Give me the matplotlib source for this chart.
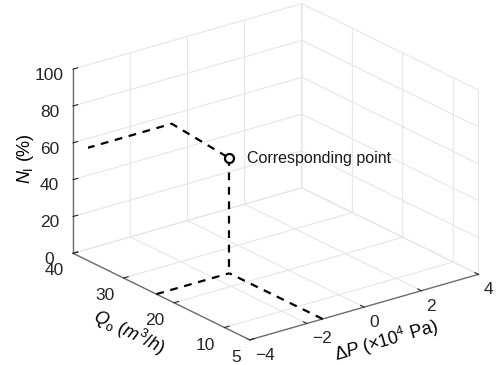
import matplotlib
matplotlib.use("Agg")
import matplotlib.pyplot as plt
import numpy as np

plt.rcParams['font.family'] = ['Liberation Sans', 'DejaVu Sans']
plt.rcParams['mathtext.fontset'] = 'custom'
plt.rcParams['mathtext.rm'] = 'Liberation Sans'
plt.rcParams['mathtext.it'] = 'Liberation Sans:italic'
plt.rcParams['mathtext.bf'] = 'Liberation Sans:bold'

# ---- data ----
dp_ticks = [-4, -2, 0, 2, 4]
q_ticks = [5, 10, 20, 30, 40]
n_ticks = [0, 20, 40, 60, 80, 100]
dp_lim = (-4, 4)
q_lim = (5, 40)
n_lim = (0, 100)

point_dp = -1.45
point_q = 23.5
point_n = 62.5
wall_dp = -0.55     # where the upper guide meets the back wall
wall_n = 55.0       # N value at the back wall

# guide lines (dashed)
vert_dp = [point_dp, point_dp]
vert_q = [point_q, point_q]
vert_n = [point_n, n_lim[0]]
floor1_dp = [dp_lim[0], point_dp]
floor1_q = [point_q, point_q]
floor1_n = [0, 0]
floor2_dp = [point_dp, point_dp]
floor2_q = [q_lim[0], point_q]
floor2_n = [0, 0]
up_dp = [dp_lim[0], wall_dp, point_dp]
up_q = [q_lim[1], q_lim[1], point_q]
up_n = [wall_n, wall_n, point_n]

fig = plt.figure(figsize=(4.97, 3.65), dpi=100)
ax = fig.add_axes([0.045, 0.016, 1.0, 1.0], projection='3d', proj_type='ortho')
ax.view_init(elev=22, azim=-127.4)
ax.set_box_aspect((1.0, 1.01, 0.69), zoom=1.21)

ax.set_xlim(*dp_lim)
ax.set_ylim(*q_lim)
ax.set_zlim(*n_lim)
ax.set_xticks(dp_ticks)
ax.set_yticks(q_ticks)
ax.set_zticks(n_ticks)
ax.set_xticklabels(['\u22124', '\u22122', '0', '2', '4'])

grid_c = '#e3e3e3'
axis_c = '#6e6e6e'
for a in (ax.xaxis, ax.yaxis, ax.zaxis):
    a.set_pane_color((1, 1, 1, 0))
    a.pane.set_edgecolor(grid_c)
    a._axinfo['grid']['color'] = grid_c
    a._axinfo['grid']['linewidth'] = 0.7
    a.line.set_color(axis_c)
    a.line.set_linewidth(1.0)
    a._axinfo['tick']['color'] = axis_c
    a._axinfo['tick']['inward_factor'] = 0.0
    a._axinfo['tick']['outward_factor'] = 0.25

ax.tick_params(axis='both', labelsize=12.5, colors='#262626')
ax.tick_params(axis='x', pad=-4)
ax.tick_params(axis='y', pad=-2.5)
ax.tick_params(axis='z', pad=0)
for t in ax.get_xticklabels():
    t.set_horizontalalignment('left')
for t in ax.get_yticklabels():
    t.set_horizontalalignment('right')

ls = dict(color='black', linestyle=(0, (3.5, 3)), linewidth=1.6)
ax.plot(vert_dp, vert_q, vert_n, **ls)
ax.plot(floor1_dp, floor1_q, floor1_n, **ls)
ax.plot(floor2_dp, floor2_q, floor2_n, **ls)
ax.plot(up_dp, up_q, up_n, **ls)
ax.plot([point_dp], [point_q], [point_n], marker='o', markersize=6.5,
        markerfacecolor='white', markeredgecolor='black', markeredgewidth=1.6,
        linestyle='none')
ax.text(point_dp, point_q, point_n, '    Corresponding point', fontsize=11.5,
        va='center', ha='left', color='#1a1a1a')

ax.set_xlabel(r'$\Delta$$P$ ($\times$10$^4$ Pa)', fontsize=13, labelpad=-4)
ax.set_ylabel(r'$Q_\mathrm{o}$ ($m^3$/$h$)', fontsize=13, labelpad=-1.5)
ax.set_zlabel(r'$N_\mathrm{I}$ (%)', fontsize=13, labelpad=-5)

fig.savefig('out.png', dpi=100)
